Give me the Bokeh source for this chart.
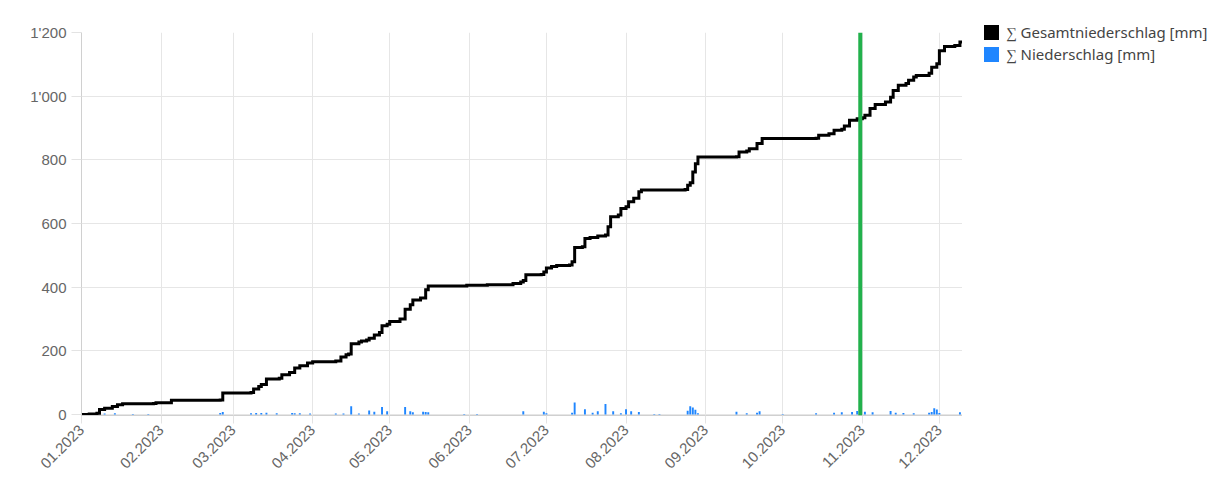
import pandas as pd
from bokeh.plotting import figure
from bokeh.layouts import row
from bokeh.models import (FixedTicker, DatetimeTickFormatter, Span, Div,
                          ColumnDataSource, Range1d)
from bokeh.embed import file_html
from bokeh.resources import INLINE
from math import pi

# ---------------- data ----------------
year_start = "2023-01-01"
# cumulative total precipitation (day offset from 1 Jan, mm)
gesamt_day = [0, 3, 6, 7, 9, 12, 14, 16, 28, 29, 34, 35, 54, 55, 66, 67, 69, 70, 72, 77, 78, 81,
              83, 85, 88, 90, 99, 101, 103, 104, 105, 108, 109, 111, 112, 114, 116, 117, 119, 120,
              124, 126, 128, 129, 132, 134, 135, 150, 158, 168, 171, 172, 173, 179, 180, 181, 183,
              185, 190, 191, 192, 195, 196, 198, 201, 204, 205, 206, 209, 210, 212, 213, 215, 217,
              218, 235, 236, 237, 238, 239, 240, 255, 256, 259, 260, 263, 265, 286, 287, 291, 293,
              296, 297, 299, 302, 304, 305, 307, 309, 313, 315, 316, 318, 321, 322, 324, 325, 330,
              331, 333, 334, 336, 340, 342, 343]
gesamt_mm = [0, 2, 4, 16, 20, 25, 31, 34, 35, 37, 37, 45, 46, 68, 69, 80, 88, 94, 112, 114, 125, 132,
             146, 153, 162, 166, 168, 181, 188, 190, 222, 228, 231, 234, 240, 250, 258, 279, 284, 292,
             300, 331, 345, 360, 366, 392, 404, 406, 408, 412, 416, 421, 439, 440, 448, 460, 465,
             468, 470, 480, 525, 527, 553, 556, 561, 564, 590, 621, 627, 647, 653, 668, 679, 700,
             705, 707, 720, 728, 762, 788, 809, 810, 825, 828, 835, 851, 867, 868, 877, 882, 893,
             896, 906, 924, 929, 932, 940, 961, 974, 982, 997, 1018, 1034, 1040, 1050, 1060, 1065, 1072,
             1091, 1102, 1143, 1156, 1159, 1170, 1172]
# daily precipitation bars (day offset, mm)
nieder_day = [9, 13, 20, 26, 54, 55, 66, 68, 70, 72, 76, 82, 83, 85, 89, 99, 102, 105, 108, 112,
              114, 117, 119, 126, 128, 129, 133, 134, 135, 149, 154, 172, 180, 181, 191, 192, 196,
              199, 201, 204, 207, 210, 212, 214, 217, 223, 225, 236, 237, 238, 239, 240, 255, 259,
              263, 264, 273, 286, 293, 296, 300, 302, 305, 308, 315, 317, 320, 324, 330, 331, 332,
              333, 334, 342]
nieder_mm = [3, 4, 2, 2, 5, 8, 4, 5, 5, 6, 4, 5, 4, 4, 3, 3, 3, 26, 3, 13,
             9, 24, 10, 24, 10, 7, 9, 8, 7, 2, 2, 10, 9, 4, 6, 38, 17,
             6, 10, 33, 10, 4, 17, 10, 8, 2, 2, 12, 26, 22, 15, 4, 9, 4,
             6, 10, 2, 4, 6, 7, 8, 11, 9, 7, 11, 6, 5, 4, 6, 8, 20,
             16, 5, 7]
month_ticks = ["2023-%02d-01" % m for m in range(1, 13)]
y_ticks = [0, 200, 400, 600, 800, 1000, 1200]
y_labels = ["0", "200", "400", "600", "800", "1'000", "1'200"]
marker_date = "2023-11-01"
label_gesamt = "∑ Gesamtniederschlag [mm]"
label_nieder = "∑ Niederschlag [mm]"
color_gesamt = "#000000"
color_nieder = "#1f86ff"

# ---------------- build ----------------
base = pd.Timestamp(year_start)
g_dates = [base + pd.Timedelta(days=d) for d in gesamt_day]
n_dates = [base + pd.Timedelta(days=d) for d in nieder_day]

def ms(ts):
    return pd.Timestamp(ts).value / 1e6

p = figure(width=962, height=481, x_axis_type="datetime", output_backend="svg",
           toolbar_location=None, min_border_left=81, min_border_top=32,
           min_border_bottom=66, min_border_right=0)
p.x_range = Range1d(ms(g_dates[0]), ms(g_dates[-1]))
p.y_range = Range1d(-3, 1200)
p.outline_line_color = None
p.background_fill_color = "white"
p.border_fill_color = "white"

src_bar = ColumnDataSource(dict(x=n_dates, top=nieder_mm))
p.vbar(x="x", top="top", bottom=0, width=0.75 * 86400000, source=src_bar,
       fill_color=color_nieder, line_color=None)
src_line = ColumnDataSource(dict(x=g_dates, y=gesamt_mm))
p.step(x="x", y="y", source=src_line, mode="after", line_color=color_gesamt, line_width=3,
       line_join="miter")

span = Span(location=ms(marker_date) - 0.8 * 86400000, dimension="height",
            line_color="#22b14c", line_width=4)
p.add_layout(span)

# axes
p.xaxis.ticker = FixedTicker(ticks=[ms(t) for t in month_ticks])
fmt = "%m.%Y"
p.xaxis.formatter = DatetimeTickFormatter(days=fmt, months=fmt, years=fmt, hours=fmt,
                                          minutes=fmt, seconds=fmt, milliseconds=fmt,
                                          microseconds=fmt, minsec=fmt, hourmin=fmt)
p.xaxis.major_label_orientation = pi / 4
p.yaxis.ticker = FixedTicker(ticks=y_ticks)
p.yaxis.major_label_overrides = {t: l for t, l in zip(y_ticks, y_labels)}

for ax in (p.xaxis, p.yaxis):
    ax.axis_line_color = "#d0d0d0"
    ax.major_tick_line_color = "#e3e3e3"
    ax.minor_tick_line_color = None
    ax.major_label_text_color = "#666666"
    ax.major_label_text_font = "Liberation Sans"
    ax.major_label_text_font_size = "15px"
p.xaxis.major_tick_out = 8
p.xaxis.major_tick_in = 0
p.yaxis.major_tick_out = 10
p.yaxis.major_tick_in = 0
p.yaxis.major_label_standoff = 5
p.xaxis.major_label_standoff = 4

p.xgrid.ticker = p.xaxis.ticker
p.ygrid.ticker = p.yaxis.ticker
p.grid.grid_line_color = "#e6e6e6"
p.grid.grid_line_width = 1

# legend (HTML block to the right of the plot)
def item(color, label):
    return ('<div style="display:flex;align-items:center;height:22px;">'
            '<span style="display:inline-block;width:15px;height:15px;background:%s;'
            'margin-right:7px;"></span><span>%s</span></div>' % (color, label))

legend_html = ('<div style="padding:21px 0 0 22px;font-family:\'Noto Sans\';font-size:15px;'
               'color:#444444;line-height:22px;white-space:nowrap;">'
               + item(color_gesamt, label_gesamt) + item(color_nieder, label_nieder) + '</div>')
lg = Div(text=legend_html, width=247, height=481, margin=0)

layout = row(p, lg, spacing=0)
open("out.html", "w").write(file_html(layout, INLINE))
